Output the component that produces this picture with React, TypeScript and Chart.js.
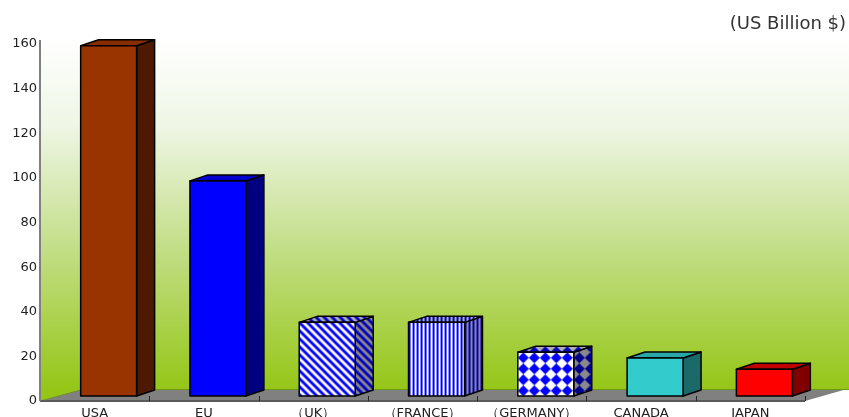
import React, { useEffect, useRef } from "react";
import { Chart, registerables } from "chart.js";

Chart.register(...registerables);

// ---- data ----
const categories = ["USA", "EU", "（UK）", "（FRANCE）", "（GERMANY）", "CANADA", "JAPAN"];
const values = [157, 96.4, 33, 33, 19.6, 17, 12];
const yMin = 0;
const yMax = 160;
const yStep = 20;
const unitLabel = "(US Billion $)";

// ---- styles ----
type Face = string | { kind: "diag" | "vert" | "diamond"; bg: string; fg: string };
const barStyles: { front: Face; side: Face; top: Face }[] = [
  { front: "#993300", side: "#4d1900", top: "#862d00" },
  { front: "#0000ff", side: "#000080", top: "#0000cc" },
  {
    front: { kind: "diag", bg: "#ffffff", fg: "#0000ff" },
    side: { kind: "diag", bg: "#8a8a8a", fg: "#0000c0" },
    top: { kind: "diag", bg: "#b0b0b0", fg: "#0000c0" },
  },
  {
    front: { kind: "vert", bg: "#ffffff", fg: "#0000ff" },
    side: { kind: "vert", bg: "#8a8a8a", fg: "#0000c0" },
    top: { kind: "vert", bg: "#b0b0b0", fg: "#0000c0" },
  },
  {
    front: { kind: "diamond", bg: "#ffffff", fg: "#0000ff" },
    side: { kind: "diamond", bg: "#8a8a8a", fg: "#000090" },
    top: { kind: "diamond", bg: "#b0b0b0", fg: "#0000c0" },
  },
  { front: "#33cccc", side: "#1b6a6a", top: "#2aa6a6" },
  { front: "#ff0000", side: "#800000", top: "#c00000" },
];

const FONT = "'DejaVu Sans', Verdana, sans-serif";

function makeTile(kind: string, bg: string, fg: string): HTMLCanvasElement {
  const c = document.createElement("canvas");
  const ctx = c.getContext("2d")!;
  if (kind === "diag") {
    c.width = 8;
    c.height = 8;
    ctx.fillStyle = bg;
    ctx.fillRect(0, 0, 8, 8);
    ctx.strokeStyle = fg;
    ctx.lineWidth = 2.8;
    for (const o of [-8, 0, 8]) {
      ctx.beginPath();
      ctx.moveTo(o - 1, -1);
      ctx.lineTo(o + 9, 9);
      ctx.stroke();
    }
  } else if (kind === "vert") {
    c.width = 4;
    c.height = 4;
    ctx.fillStyle = bg;
    ctx.fillRect(0, 0, 4, 4);
    ctx.fillStyle = fg;
    ctx.fillRect(0, 0, 2, 4);
  } else {
    const s = 11;
    c.width = s;
    c.height = s;
    ctx.fillStyle = bg;
    ctx.fillRect(0, 0, s, s);
    ctx.fillStyle = fg;
    ctx.beginPath();
    ctx.moveTo(s / 2, 0);
    ctx.lineTo(s, s / 2);
    ctx.lineTo(s / 2, s);
    ctx.lineTo(0, s / 2);
    ctx.closePath();
    ctx.fill();
  }
  return c;
}

function faceFill(ctx: CanvasRenderingContext2D, f: Face, ox: number, oy: number): string | CanvasPattern {
  if (typeof f === "string") return f;
  const p = ctx.createPattern(makeTile(f.kind, f.bg, f.fg), "repeat")!;
  p.setTransform(new DOMMatrix().translate(ox, oy));
  return p;
}

const DEPTH_X = 18;
const DEPTH_Y = -6;
const SHIFT_X = 14;
const SHIFT_Y = -5;
const FLOOR_X = 42;
const FLOOR_Y = -12;

const threeD = {
  id: "threeD",
  beforeDatasetsDraw(chart: any) {
    const { ctx, chartArea, width } = chart;
    const { left, right, top, bottom } = chartArea;
    ctx.save();
    // back wall
    const wallBottom = bottom + FLOOR_Y;
    const g = ctx.createLinearGradient(0, top - 4, 0, wallBottom);
    g.addColorStop(0, "#ffffff");
    g.addColorStop(0.25, "#eef6e4");
    g.addColorStop(0.55, "#c8e194");
    g.addColorStop(1, "#95c617");
    ctx.fillStyle = g;
    ctx.beginPath();
    ctx.moveTo(left, top - 4);
    ctx.lineTo(width, top - 4);
    ctx.lineTo(width, wallBottom);
    ctx.lineTo(left + FLOOR_X, wallBottom);
    ctx.lineTo(left, bottom);
    ctx.closePath();
    ctx.fill();
    // floor
    ctx.fillStyle = "#808080";
    ctx.beginPath();
    ctx.moveTo(left, bottom);
    ctx.lineTo(right, bottom);
    ctx.lineTo(right + FLOOR_X, wallBottom);
    ctx.lineTo(left + FLOOR_X, wallBottom);
    ctx.closePath();
    ctx.fill();
    // wall bottom edge
    ctx.strokeStyle = "#6e9a10";
    ctx.lineWidth = 1;
    ctx.beginPath();
    ctx.moveTo(left, bottom);
    ctx.lineTo(left + FLOOR_X, wallBottom + 0.5);
    ctx.lineTo(width, wallBottom + 0.5);
    ctx.stroke();
    // x axis line
    ctx.strokeStyle = "#5a5a5a";
    ctx.lineWidth = 2;
    ctx.beginPath();
    ctx.moveTo(left, bottom);
    ctx.lineTo(right, bottom);
    ctx.stroke();
    // tick marks at category boundaries
    const xs = chart.scales.x;
    const n = categories.length;
    const cw = (right - left) / n;
    ctx.strokeStyle = "#222";
    ctx.lineWidth = 1;
    for (let i = 0; i < n; i++) {
      const bx = Math.round(xs.getPixelForValue(i) + cw / 2) + 0.5;
      ctx.beginPath();
      ctx.moveTo(bx, bottom);
      ctx.lineTo(bx, bottom - 5);
      ctx.stroke();
    }
    // y axis line
    ctx.strokeStyle = "#808080";
    ctx.lineWidth = 2;
    ctx.beginPath();
    ctx.moveTo(left, top - 4);
    ctx.lineTo(left, bottom);
    ctx.stroke();
    ctx.restore();
  },
  afterDatasetsDraw(chart: any) {
    const { ctx } = chart;
    const meta = chart.getDatasetMeta(0);
    ctx.save();
    ctx.lineWidth = 1.5;
    ctx.lineJoin = "round";
    ctx.strokeStyle = "#000";
    meta.data.forEach((el: any, i: number) => {
      const st = barStyles[i];
      const w = el.width;
      const l = el.x - w / 2 + SHIFT_X;
      const r = el.x + w / 2 + SHIFT_X;
      const yT = el.y + SHIFT_Y;
      const yB = el.base + SHIFT_Y;
      // side
      ctx.fillStyle = faceFill(ctx, st.side, r, yT);
      ctx.beginPath();
      ctx.moveTo(r, yT);
      ctx.lineTo(r + DEPTH_X, yT + DEPTH_Y);
      ctx.lineTo(r + DEPTH_X, yB + DEPTH_Y);
      ctx.lineTo(r, yB);
      ctx.closePath();
      ctx.fill();
      ctx.stroke();
      // top
      ctx.fillStyle = faceFill(ctx, st.top, l, yT + DEPTH_Y);
      ctx.beginPath();
      ctx.moveTo(l, yT);
      ctx.lineTo(l + DEPTH_X, yT + DEPTH_Y);
      ctx.lineTo(r + DEPTH_X, yT + DEPTH_Y);
      ctx.lineTo(r, yT);
      ctx.closePath();
      ctx.fill();
      ctx.stroke();
      // front
      ctx.fillStyle = faceFill(ctx, st.front, l, yT);
      ctx.beginPath();
      ctx.rect(l, yT, r - l, yB - yT);
      ctx.fill();
      ctx.stroke();
    });
    // unit label
    ctx.fillStyle = "#333";
    ctx.font = `18px ${FONT}`;
    ctx.textAlign = "right";
    ctx.textBaseline = "alphabetic";
    ctx.fillText(unitLabel, 846, 29);
    ctx.restore();
  },
};

export default function App() {
  const ref = useRef<HTMLCanvasElement>(null);
  useEffect(() => {
    const chart = new Chart(ref.current!, {
      type: "bar",
      data: {
        labels: categories,
        datasets: [
          {
            data: values,
            backgroundColor: "rgba(0,0,0,0)",
            borderWidth: 0,
            barPercentage: 0.512,
            categoryPercentage: 1,
          },
        ],
      },
      options: {
        responsive: false,
        animation: false,
        layout: { padding: { top: 44, right: 44, left: 0, bottom: 0 } },
        plugins: { legend: { display: false }, tooltip: { enabled: false }, title: { display: false } },
        scales: {
          x: {
            grid: { display: false },
            border: { display: false },
            ticks: { color: "#222", font: { family: FONT, size: 13 }, padding: -3, maxRotation: 0, autoSkip: false },
            afterFit: (s: any) => {
              s.height = 16;
            },
          },
          y: {
            min: yMin,
            max: yMax,
            grid: { display: false, drawTicks: false },
            border: { display: false },
            ticks: { stepSize: yStep, color: "#222", font: { family: FONT, size: 13 }, padding: 3 },
            afterFit: (s: any) => {
              s.width = 40;
            },
          },
        },
      },
      plugins: [threeD],
    });
    return () => chart.destroy();
  }, []);
  return (
    <div style={{ position: "fixed", left: 0, top: 0, width: 849, height: 417, background: "#fff" }}>
      <canvas ref={ref} width={849} height={417} />
    </div>
  );
}
